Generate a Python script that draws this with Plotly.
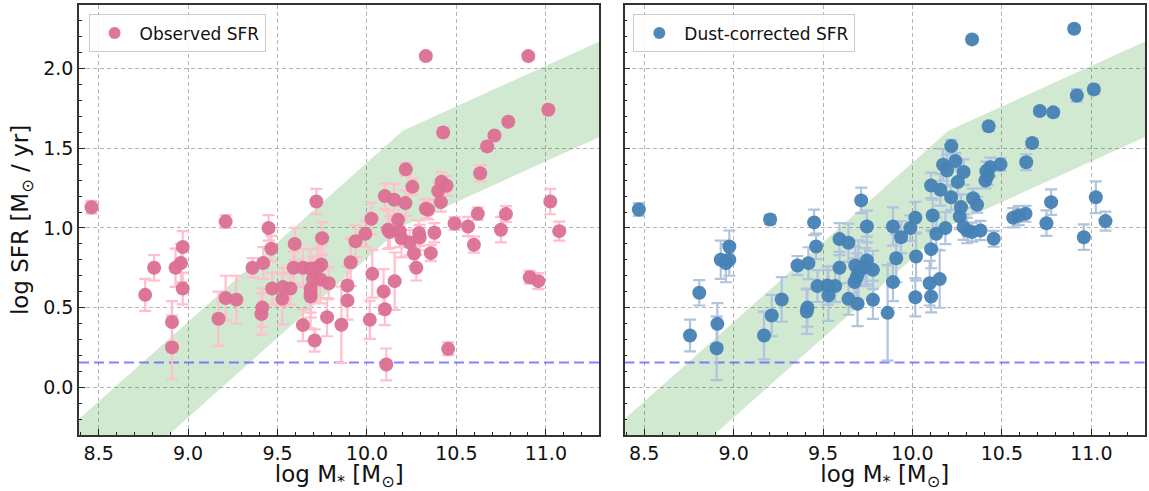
import plotly.graph_objects as go
from plotly.subplots import make_subplots

# ---------------- data ----------------
# Observed SFR (left panel)
obs_mass = [8.46, 8.76, 8.81, 8.91, 8.91, 8.93, 8.96, 8.97, 8.97, 9.17, 9.21, 9.21, 9.27, 9.36,
            9.42, 9.41, 9.415, 9.45, 9.465, 9.47, 9.53, 9.527, 9.572, 9.596, 9.59, 9.642, 9.642,
            9.684, 9.685, 9.685, 9.685, 9.698, 9.708, 9.717, 9.726, 9.740, 9.745, 9.749, 9.777,
            9.786, 9.857, 9.891, 9.891, 9.909, 9.936, 9.991, 10.025, 10.03, 10.016, 10.093, 10.10,
            10.108, 10.10, 10.155, 10.118, 10.127, 10.152, 10.174, 10.183, 10.193, 10.215, 10.217,
            10.239, 10.254, 10.263, 10.276, 10.291, 10.295, 10.329, 10.342, 10.329, 10.357, 10.377,
            10.398, 10.413, 10.417, 10.426, 10.445, 10.454, 10.49, 10.565, 10.598, 10.62, 10.633,
            10.672, 10.713, 10.749, 10.777, 10.79, 10.902, 10.91, 10.958, 11.014, 11.025, 11.075]
obs_sfr = [1.13, 0.58, 0.75, 0.41, 0.25, 0.75, 0.78, 0.88, 0.62, 0.43, 0.56, 1.04, 0.55, 0.75,
           0.78, 0.46, 0.50, 1.00, 0.87, 0.62, 0.63, 0.555, 0.62, 0.90, 0.75, 0.75, 0.39,
           0.745, 0.618, 0.587, 0.57, 0.68, 0.293, 1.166, 0.754, 0.676, 0.771, 0.936, 0.44,
           0.653, 0.392, 0.545, 0.639, 0.785, 0.917, 0.963, 1.058, 0.712, 0.423, 0.601, 0.49,
           0.143, 1.20, 0.666, 0.989, 0.974, 1.177, 1.051, 0.98, 0.935, 1.156, 1.368,
           0.908, 1.258, 0.84, 0.75, 0.968, 0.94, 1.121, 1.114, 2.079, 0.842, 0.97,
           1.233, 1.162, 1.29, 1.60, 1.265, 0.241, 1.028, 1.009, 0.895, 1.09, 1.344,
           1.512, 1.581, 0.989, 1.087, 1.667, 2.079, 0.69, 0.666, 1.742, 1.166, 0.98]
obs_err = [0.04, 0.10, 0.08, 0.13, 0.20, 0.12, 0.12, 0.10, 0.10, 0.17, 0.14, 0.04, 0.15, 0.06,
           0.10, 0.13, 0.12, 0.08, 0.08, 0.10, 0.12, 0.16, 0.10, 0.10, 0.10, 0.12, 0.10,
           0.12, 0.15, 0.15, 0.20, 0.14, 0.07, 0.08, 0.12, 0.15, 0.12, 0.10, 0.12,
           0.10, 0.24, 0.12, 0.12, 0.15, 0.10, 0.08, 0.10, 0.15, 0.12, 0.14, 0.10,
           0.10, 0.08, 0.18, 0.12, 0.10, 0.10, 0.10, 0.10, 0.12, 0.08, 0.04,
           0.08, 0.05, 0.08, 0.08, 0.08, 0.08, 0.06, 0.06, 0.02, 0.05, 0.06,
           0.05, 0.06, 0.06, 0.03, 0.06, 0.04, 0.04, 0.06, 0.05, 0.04, 0.05,
           0.03, 0.02, 0.08, 0.05, 0.02, 0.02, 0.04, 0.05, 0.03, 0.08, 0.06]

# Dust-corrected SFR (right panel)
cor_mass = [8.47, 8.756, 8.808, 8.909, 8.905, 8.928, 8.957, 8.976, 8.976, 9.170, 9.213, 9.204,
            9.269, 9.357, 9.418, 9.409, 9.413, 9.45, 9.461, 9.469, 9.525, 9.53, 9.568, 9.592,
            9.592, 9.642, 9.642, 9.68, 9.676, 9.689, 9.698, 9.693, 9.713, 9.736, 9.745, 9.745,
            9.779, 9.779, 9.861, 9.891, 9.891, 9.909, 9.936, 9.988, 10.016, 10.02, 10.016, 10.096,
            10.104, 10.104, 10.104, 10.113, 10.133, 10.152, 10.156, 10.171, 10.184, 10.193, 10.216,
            10.217, 10.24, 10.253, 10.264, 10.271, 10.286, 10.286, 10.305, 10.333, 10.333, 10.339,
            10.361, 10.38, 10.408, 10.421, 10.413, 10.426, 10.435, 10.454, 10.492, 10.563, 10.594,
            10.632, 10.636, 10.669, 10.712, 10.749, 10.775, 10.787, 10.904, 10.919, 10.958, 11.014,
            11.025, 11.079]
cor_sfr = [1.116, 0.325, 0.593, 0.398, 0.245, 0.80, 0.779, 0.80, 0.884, 0.325, 0.45, 1.053,
           0.551, 0.764, 0.779, 0.475, 0.50, 1.035, 0.884, 0.635, 0.639, 0.576, 0.635, 0.93,
           0.75, 0.907, 0.555, 0.764, 0.66, 0.691, 0.722, 0.524, 1.173, 0.754, 0.796, 1.009,
           0.737, 0.549, 0.467, 0.66, 1.009, 0.81, 0.942, 0.999, 1.064, 0.821, 0.565, 0.653,
           0.57, 0.867, 1.267, 1.078, 0.964, 0.679, 1.24, 1.397, 0.999, 1.361, 1.193,
           1.514, 1.42, 1.288, 1.072, 1.131, 1.351, 1.005, 0.984, 0.974, 2.184, 1.187,
           1.146, 0.984, 1.298, 1.33, 1.357, 1.638, 1.382, 0.932, 1.399, 1.064, 1.078,
           1.089, 1.413, 1.533, 1.734, 1.03, 1.162, 1.726, 2.251, 1.832, 0.942, 1.87,
           1.193, 1.043]
cor_err = [0.04, 0.10, 0.08, 0.13, 0.20, 0.12, 0.12, 0.10, 0.10, 0.15, 0.13, 0.03,
           0.14, 0.06, 0.10, 0.14, 0.12, 0.08, 0.08, 0.10, 0.12, 0.16, 0.10, 0.10,
           0.10, 0.12, 0.10, 0.12, 0.15, 0.15, 0.20, 0.14, 0.08, 0.12, 0.15, 0.10,
           0.12, 0.12, 0.30, 0.12, 0.12, 0.15, 0.10, 0.08, 0.10, 0.15, 0.12, 0.14,
           0.10, 0.12, 0.08, 0.10, 0.10, 0.18, 0.10, 0.10, 0.10, 0.10, 0.08,
           0.04, 0.05, 0.08, 0.08, 0.08, 0.08, 0.08, 0.08, 0.06, 0.02, 0.06,
           0.05, 0.06, 0.05, 0.06, 0.06, 0.03, 0.06, 0.05, 0.04, 0.06, 0.06,
           0.05, 0.05, 0.03, 0.02, 0.08, 0.08, 0.02, 0.02, 0.04, 0.08, 0.03,
           0.10, 0.06]

# Main-sequence band (lower / upper edges)
ms_mass = [8.3, 10.2, 11.4]
ms_lower = [-0.89, 1.01, 1.622]
ms_upper = [-0.29, 1.61, 2.222]

# SFR detection limit
sfr_limit = 0.155

x_range = [8.39, 11.3]
y_range = [-0.3, 2.4]
x_ticks = [8.5, 9.0, 9.5, 10.0, 10.5, 11.0]
y_ticks = [0.0, 0.5, 1.0, 1.5, 2.0]

# ---------------- figure ----------------
FONT = "DejaVu Sans"
fig = make_subplots(rows=1, cols=2, shared_yaxes=False, horizontal_spacing=0.0235)

panels = [
    (1, obs_mass, obs_sfr, obs_err, "Observed SFR", "rgba(219,112,147,0.95)", "#FFC0CB", "legend"),
    (2, cor_mass, cor_sfr, cor_err, "Dust-corrected SFR", "rgba(70,130,180,0.95)", "#B0C4DE", "legend2"),
]

for col, mx, sy, se, name, mcol, ecol, leg in panels:
    fig.add_trace(go.Scatter(
        x=ms_mass + ms_mass[::-1], y=ms_upper + ms_lower[::-1],
        fill="toself", fillcolor="rgba(0,128,0,0.18)", line=dict(width=0),
        mode="lines", hoverinfo="skip", showlegend=False), row=1, col=col)
    fig.add_trace(go.Scatter(
        x=x_range, y=[sfr_limit, sfr_limit], mode="lines",
        line=dict(color="rgba(90,90,255,0.75)", width=2, dash="10px,5px"),
        showlegend=False, hoverinfo="skip"), row=1, col=col)
    fig.add_trace(go.Scatter(
        x=mx, y=sy, mode="markers", name=name, legend=leg,
        marker=dict(color=mcol, size=14, line=dict(width=0)),
        error_y=dict(type="data", array=se, visible=True, color=ecol, thickness=2.2, width=6)),
        row=1, col=col)

axis_common = dict(
    showline=True, linecolor="#333333", linewidth=1.5, mirror=True,
    ticks="inside", ticklen=6, tickwidth=1.2, tickcolor="#222222",
    showgrid=True, gridcolor="#b4b4b4", griddash="4px,3px", gridwidth=1,
    zeroline=False, tickfont=dict(family=FONT, size=19, color="#111111"),
    automargin=False,
)

for col in (1, 2):
    fig.update_xaxes(range=x_range, tickvals=x_ticks, ticktext=[f"{v:.1f}" for v in x_ticks],
                     minor=dict(ticks="inside", dtick=0.1, tick0=8.5, ticklen=3, tickcolor="#222222", showgrid=False),
                     title=dict(text="log M<sub>*</sub> [M<sub>⊙</sub>]", font=dict(family=FONT, size=23, color="#111111"), standoff=14),
                     **axis_common, row=1, col=col)
    fig.update_yaxes(range=y_range, tickvals=y_ticks, ticktext=[f"{v:.1f}" for v in y_ticks],
                     minor=dict(ticks="inside", dtick=0.1, tick0=0.0, ticklen=3, tickcolor="#222222", showgrid=False),
                     showticklabels=(col == 1), **axis_common, row=1, col=col)

fig.update_yaxes(title=dict(text="log SFR [M<sub>⊙</sub> / yr]", font=dict(family=FONT, size=23, color="#111111"), standoff=8),
                 row=1, col=1)

legend_common = dict(bgcolor="rgba(255,255,255,0.85)", bordercolor="#cccccc", borderwidth=1,
                     font=dict(family=FONT, size=17, color="#111111"), xanchor="left", yanchor="top",
                     itemsizing="constant", itemwidth=40)
fig.update_layout(
    width=1149, height=491,
    margin=dict(l=79, r=4, t=5, b=56),
    plot_bgcolor="white", paper_bgcolor="white",
    legend=dict(x=0.009, y=0.978, **legend_common),
    legend2=dict(x=0.520, y=0.978, **legend_common),
    font=dict(family=FONT),
)

fig.write_html("out.html")
